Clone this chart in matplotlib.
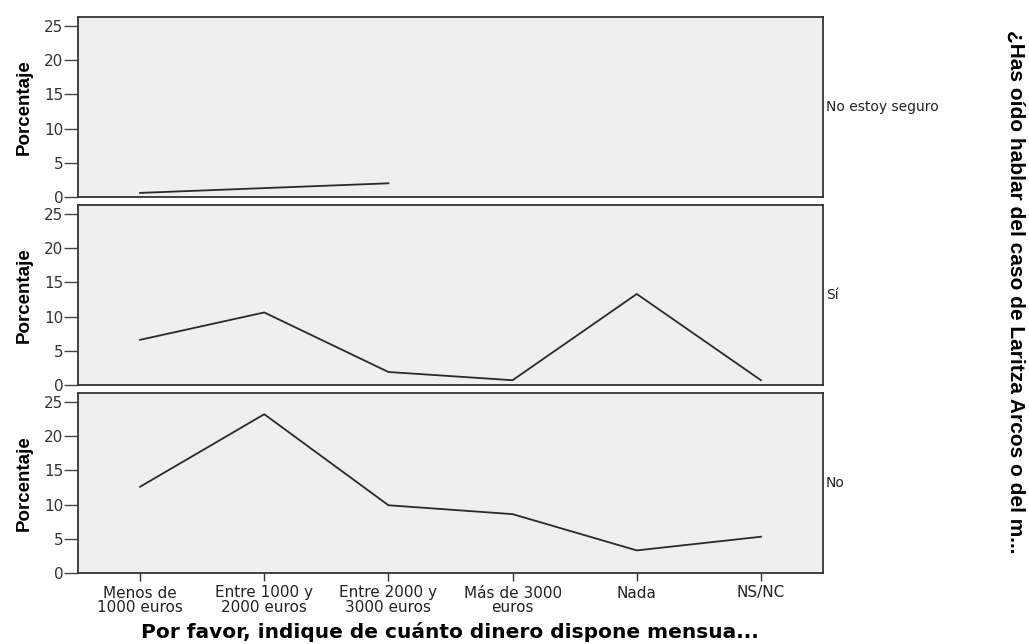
import matplotlib.pyplot as plt

# Datos
categorias = ['Menos de\n1000 euros', 'Entre 1000 y\n2000 euros', 'Entre 2000 y\n3000 euros',
              'Más de 3000\neuros', 'Nada', 'NS/NC']
grupos = ['No estoy seguro', 'Sí', 'No']
no_seguro = [0.6, 1.3, 2.0]
si = [6.6, 10.6, 1.9, 0.7, 13.3, 0.7]
no = [12.6, 23.2, 9.9, 8.6, 3.3, 5.3]
series = [no_seguro, si, no]

fig = plt.figure(figsize=(10.29, 6.44), dpi=100)

izq, ancho, alto = 78 / 1029, 745 / 1029, 180 / 644
fondos = [1 - 197 / 644, 1 - 385 / 644, 1 - 573 / 644]

for i, (g, vals) in enumerate(zip(grupos, series)):
    ax = fig.add_axes([izq, fondos[i], ancho, alto])
    ax.set_facecolor('#efefef')
    ax.plot(range(len(vals)), vals, color='#2a2a2a', lw=1.3)
    ax.set_xlim(-0.5, 5.5)
    ax.set_ylim(0, 26.3)
    ax.set_yticks([0, 5, 10, 15, 20, 25])
    ax.tick_params(axis='y', length=10, width=1, color='#444444', labelcolor='#333333',
                   labelsize=11, pad=0.5)
    for s in ax.spines.values():
        s.set_color('#333333')
        s.set_linewidth(1.3)
    ax.set_ylabel('Porcentaje', fontsize=13.5, fontweight='bold', family='Liberation Sans')
    ax.yaxis.set_label_coords(-0.061, 0.5)
    ax.text(1.004, 0.5, g, transform=ax.transAxes, fontsize=10, color='#222222',
            va='center', ha='left')
    if i < 2:
        ax.set_xticks([])
    else:
        ax.set_xticks(range(len(categorias)))
        ax.set_xticklabels(categorias, fontsize=11, color='#222222', linespacing=0.95)
        ax.tick_params(axis='x', length=6, width=1, color='#333333', pad=3)

fig.text(450 / 1029, 1 - 632 / 644, 'Por favor, indique de cuánto dinero dispone mensua...',
         ha='center', va='center', fontsize=14.5, fontweight='bold')
fig.text(1016 / 1029, 1 - 292 / 644, '¿Has oído hablar del caso de Laritza Arcos o del m...',
         rotation=-90, ha='center', va='center', fontsize=15, fontweight='bold',
         family='Liberation Sans')

plt.savefig('out.png')
